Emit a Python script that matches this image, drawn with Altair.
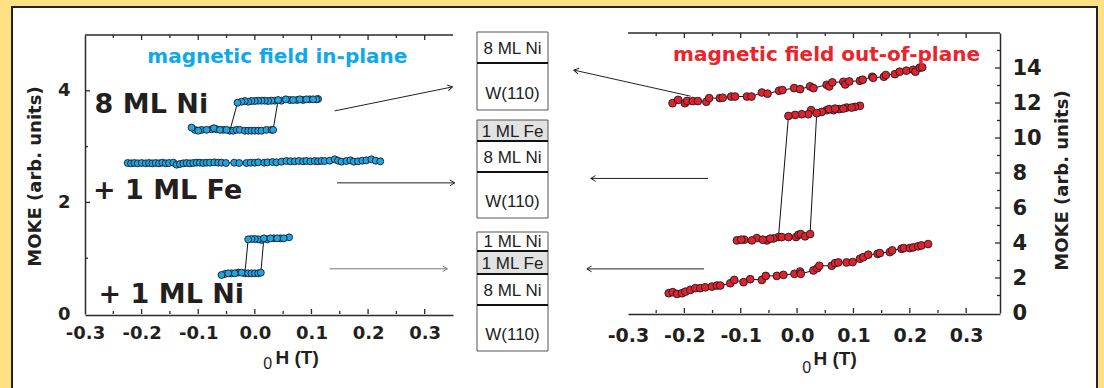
import altair as alt
import pandas as pd

# ---------------- data ----------------
# Left panel: field in-plane (H in T, MOKE in arb. units)
ni8_down_h = [0.1117, 0.1088, 0.097, 0.0852, 0.0747, 0.0617, 0.047, 0.0353, 0.0294, 0.0235, 0.0176, 0.0118, 0.0059, 0.0,
              -0.0059, -0.0118, -0.0176, -0.0235, -0.0306, -0.0441, -0.0558, -0.0676, -0.0764, -0.0941, -0.1058]
ni8_down_m = [3.853, 3.847, 3.847, 3.835, 3.835, 3.835, 3.823, 3.823, 3.823, 3.817, 3.823, 3.823, 3.823, 3.817,
              3.817, 3.805, 3.817, 3.805, 3.787, 3.285, 3.30, 3.31, 3.31, 3.30, 3.30]
ni8_up_h = [-0.1117, -0.0999, -0.0852, -0.0723, -0.0617, -0.05, -0.0382, -0.0323, -0.0265, -0.0176, -0.0118, -0.0059,
            0.0, 0.0059, 0.0118, 0.0206, 0.0294, 0.0323, 0.0411, 0.0547, 0.0676, 0.0794, 0.0911, 0.1029]
ni8_up_m = [3.34, 3.285, 3.30, 3.33, 3.30, 3.30, 3.285, 3.30, 3.30, 3.285, 3.285, 3.285,
            3.285, 3.285, 3.285, 3.30, 3.30, 3.30, 3.835, 3.847, 3.835, 3.847, 3.847, 3.847]

fe_h = [-0.2246, -0.2187, -0.2128, -0.2069, -0.1999, -0.1928, -0.1869, -0.1811, -0.1752, -0.1693,
        -0.1634, -0.1575, -0.1517, -0.144, -0.1382, -0.1323, -0.1264, -0.1205, -0.1146, -0.1088,
        -0.1029, -0.097, -0.0911, -0.0852, -0.0794, -0.0717, -0.0647, -0.0588, -0.0511, -0.0364,
        -0.0276, -0.0147, -0.0076, 0.0, 0.0059, 0.0165, 0.0223, 0.0312, 0.0382, 0.047,
        0.0558, 0.0629, 0.0705, 0.0776, 0.0852, 0.0911, 0.0982, 0.1058, 0.1117, 0.1176,
        0.1235, 0.1323, 0.1411, 0.147, 0.1529, 0.1617, 0.1687, 0.1746, 0.1822, 0.1899,
        0.1969, 0.2058, 0.2134, 0.2216]
fe_m = [2.706, 2.700, 2.706, 2.700, 2.706, 2.700, 2.706, 2.700, 2.706, 2.700,
        2.712, 2.700, 2.706, 2.712, 2.676, 2.688, 2.700, 2.706, 2.700, 2.706,
        2.712, 2.712, 2.706, 2.712, 2.712, 2.718, 2.712, 2.712, 2.706, 2.712,
        2.706, 2.706, 2.712, 2.712, 2.718, 2.712, 2.718, 2.724, 2.718, 2.730,
        2.742, 2.736, 2.736, 2.742, 2.736, 2.742, 2.736, 2.742, 2.736, 2.742,
        2.742, 2.748, 2.772, 2.748, 2.730, 2.742, 2.754, 2.730, 2.736, 2.748,
        2.754, 2.772, 2.748, 2.736]

ni1_down_h = [0.0605, 0.0453, 0.0335, 0.0217, 0.0118, 0.0059, 0.0, -0.0059, -0.0118, -0.0176, -0.0294, -0.0411, -0.0529, -0.0588]
ni1_down_m = [1.374, 1.356, 1.356, 1.338, 1.326, 1.338, 1.344, 1.344, 1.338, 0.729, 0.741, 0.729, 0.717, 0.699]
ni1_up_h = [-0.047, -0.0353, -0.0235, -0.0118, -0.0059, 0.0, 0.0059, 0.0106, 0.0159, 0.0276, 0.0394, 0.0511]
ni1_up_m = [0.729, 0.729, 0.741, 0.729, 0.729, 0.729, 0.729, 0.741, 1.356, 1.356, 1.356, 1.356]

# Right panel: field out-of-plane
oop_ni8_h = [-0.221, -0.211, -0.199, -0.195, -0.185, -0.176, -0.161, -0.156, -0.137, -0.132,
             -0.117, -0.110, -0.089, -0.081, -0.0625, -0.0525, -0.032, -0.026, -0.0053, 0.0053,
             0.023, 0.029, 0.0525, 0.057, 0.0625, 0.082, 0.0855, 0.0926, 0.1115, 0.1163,
             0.1333, 0.135, 0.154, 0.1575, 0.1735, 0.182, 0.194, 0.206, 0.210, 0.2177, 0.222]
oop_ni8_m = [11.99, 12.18, 11.99, 12.12, 12.11, 12.11, 12.07, 12.28, 12.28, 12.30,
             12.37, 12.37, 12.37, 12.37, 12.60, 12.53, 12.70, 12.74, 12.85, 12.79,
             12.95, 12.85, 13.04, 12.95, 13.18, 13.21, 13.06, 13.23, 13.27, 13.33,
             13.50, 13.44, 13.50, 13.60, 13.65, 13.79, 13.85, 13.90, 13.79, 14.02, 14.04]

oop_fe_down_h = [0.1115, 0.1027, 0.088, 0.0749, 0.0643, 0.0525, 0.0437, 0.0248, 0.020, 0.0083, -0.0035, -0.0153,
                 -0.0330, -0.0419, -0.0537, -0.0714, -0.0938, -0.1068]
oop_fe_down_m = [11.84, 11.78, 11.74, 11.65, 11.59, 11.59, 11.49, 11.59, 11.36, 11.36, 11.32, 11.26,
                 4.34, 4.26, 4.15, 4.28, 4.19, 4.15]
oop_fe_up_h = [-0.0991, -0.0802, -0.0608, -0.0478, -0.0271, -0.0153, -0.0018, 0.0024, 0.0065, 0.0142, 0.023,
               0.0348, 0.057, 0.0673, 0.082, 0.0968]
oop_fe_up_m = [4.19, 4.15, 4.19, 4.25, 4.34, 4.34, 4.34, 4.47, 4.51, 4.38, 4.51,
               11.42, 11.65, 11.68, 11.68, 11.74]

oop_ni1_h = [-0.2277, -0.2207, -0.213, -0.2041, -0.1982, -0.1894, -0.1805, -0.1717, -0.1628, -0.151,
             -0.1422, -0.1363, -0.1186, -0.1115, -0.095, -0.0832, -0.0625, -0.0555, -0.036, -0.0242,
             -0.0047, 0.0053, 0.0065, 0.0289, 0.036, 0.0395, 0.0614, 0.0673, 0.0732, 0.0879,
             0.0985, 0.1115, 0.1174, 0.1262, 0.1428, 0.1469, 0.1646, 0.1687, 0.1853, 0.1894,
             0.200, 0.2059, 0.2147, 0.2206, 0.2324]
oop_ni1_m = [1.13, 1.19, 1.09, 1.13, 1.22, 1.32, 1.42, 1.42, 1.47, 1.51,
             1.57, 1.57, 1.70, 1.89, 1.76, 1.93, 1.89, 2.12, 2.12, 2.18,
             2.24, 2.37, 2.24, 2.43, 2.56, 2.70, 2.70, 2.85, 2.89, 2.89,
             2.91, 3.10, 3.19, 3.33, 3.38, 3.42, 3.48, 3.58, 3.67, 3.71,
             3.71, 3.75, 3.81, 3.86, 3.94]

# axis ticks
x_tick_labels = [-0.3, -0.2, -0.1, 0.0, 0.1, 0.2, 0.3]
x_major = [-0.2, -0.1, 0.0, 0.1, 0.2, 0.3]
x_minor = [-0.25, -0.15, -0.05, 0.05, 0.15, 0.25]
left_y_labels = [0, 2, 4]
left_y_major = [2, 4]
left_y_minor = [1, 3]
right_y_labels = [0, 2, 4, 6, 8, 10, 12, 14]
right_y_major = [2, 4, 6, 8, 10, 12, 14]
right_y_minor = [1, 3, 5, 7, 9, 11, 13, 15]

# sample labels (left panel, data coordinates)
sample_labels = ["8 ML Ni", "+ 1 ML Fe", "+ 1 ML Ni"]
sample_label_h = [-0.283, -0.286, -0.276]
sample_label_m = [3.60, 2.06, 0.20]

# arrows (tail -> head)
left_arrow_h0 = [0.141, 0.145, 0.132]
left_arrow_m0 = [3.64, 2.35, 0.81]
left_arrow_h1 = [0.349, 0.353, 0.340]
left_arrow_m1 = [4.07, 2.35, 0.81]
left_arrow_angle = [348.5, 0, 0]
left_arrow_color = ["#222222", "#222222", "#777777"]
right_arrow_h0 = [-0.189, -0.158, -0.165]
right_arrow_m0 = [12.39, 7.69, 2.52]
right_arrow_h1 = [-0.396, -0.366, -0.373]
right_arrow_m1 = [13.88, 7.69, 2.52]
right_arrow_angle = [192.5, 180, 180]
right_arrow_color = ["#222222", "#222222", "#222222"]

# layer stacks (schematic units, top-down)
stack_tops = [32, 120, 232]
stack_layers = [["8 ML Ni", "W(110)"],
                ["1 ML Fe", "8 ML Ni", "W(110)"],
                ["1 ML Ni", "1 ML Fe", "8 ML Ni", "W(110)"]]
stack_heights = [[31, 47], [21, 31, 46], [19, 23, 31, 46]]

# ---------------- styles ----------------
YELLOW = "#FFE183"
CYAN_PT = "#1FA5E0"
CYAN_TXT = "#0FA8E8"
RED_PT = "#E0232B"
RED_TXT = "#E8242C"
PT_STROKE = "#1b1b28"
FRAME = "#2a2a2a"
INK = "#231F20"
BOLD = "DejaVu Sans"
SANS = "Liberation Sans"
CHEVRON = "M-1,-0.6L0,0L-1,0.6"

# plot area = white framed panel, origin at canvas (12, 7)
LX = alt.Scale(domain=[-0.3, 0.35], range=[73, 441], nice=False, zero=False)
LY = alt.Scale(domain=[0, 5], range=[307, 28], nice=False, zero=False)
RX = alt.Scale(domain=[-0.3, 0.36], range=[616, 988], nice=False, zero=False)
RY = alt.Scale(domain=[0, 16], range=[306, 26], nice=False, zero=False)
MX = alt.Scale(domain=[0, 1], range=[465, 536], nice=False, zero=False)
MY = alt.Scale(domain=[0, 388], range=[-7, 381], nice=False, zero=False)

LABEL_EXPR = "replace(format(datum.value, '.1f'), '\u2212', '-')"


def axis_style(size):
    return dict(grid=False, ticks=False, tickSize=0, domainColor=FRAME, domainWidth=1.5,
                labelFont=BOLD, labelFontWeight="bold", labelFontSize=size, labelColor=INK,
                labelFlush=False, labelOverlap=False, zindex=1, titleColor=INK)


def loop_df(parts):
    rows = []
    for name, hs, ms in parts:
        assert len(hs) == len(ms), name
        for i, (h, m) in enumerate(zip(hs, ms)):
            rows.append({"sweep": name, "i": i, "h": h, "m": m})
    return pd.DataFrame(rows)


def panel(df, xs, ys, xaxis, yaxis, pt_color, pt_size):
    base = alt.Chart(df)
    lines = base.mark_line(color="#111111", strokeWidth=1).encode(
        x=alt.X("h:Q", scale=xs, axis=None), y=alt.Y("m:Q", scale=ys, axis=None),
        detail="sweep:N", order="i:Q")
    pts = base.mark_circle(size=pt_size, fill=pt_color, stroke=PT_STROKE, strokeWidth=0.9, opacity=1).encode(
        x=alt.X("h:Q", scale=xs, axis=xaxis), y=alt.Y("m:Q", scale=ys, axis=yaxis))
    return [lines, pts]


def xticks(values, at, length, sign, xs, ys):
    return alt.Chart(pd.DataFrame({"v": values, "a": [at] * len(values)})).mark_tick(
        orient="vertical", size=length, thickness=1.3, color=FRAME, opacity=1, yOffset=sign * length / 2
    ).encode(x=alt.X("v:Q", scale=xs, axis=None), y=alt.Y("a:Q", scale=ys, axis=None))


def yticks(values, at, length, sign, xs, ys):
    return alt.Chart(pd.DataFrame({"v": values, "a": [at] * len(values)})).mark_tick(
        orient="horizontal", size=length, thickness=1.3, color=FRAME, opacity=1, xOffset=sign * length / 2
    ).encode(y=alt.Y("v:Q", scale=ys, axis=None), x=alt.X("a:Q", scale=xs, axis=None))


def hline(x0, x1, y, xs, ys):
    return alt.Chart(pd.DataFrame({"x0": [x0], "x1": [x1], "y": [y]})).mark_rule(
        color=FRAME, strokeWidth=1.5).encode(
        x=alt.X("x0:Q", scale=xs, axis=None), x2="x1", y=alt.Y("y:Q", scale=ys, axis=None))


def arrows(h0, m0, h1, m1, ang, col, xs, ys):
    df = pd.DataFrame({"h0": h0, "m0": m0, "h1": h1, "m1": m1, "ang": ang, "col": col})
    shaft = alt.Chart(df).mark_rule(strokeWidth=1).encode(
        x=alt.X("h0:Q", scale=xs, axis=None), y=alt.Y("m0:Q", scale=ys, axis=None),
        x2="h1", y2="m1", color=alt.Color("col:N", scale=None))
    head = alt.Chart(df).mark_point(shape=CHEVRON, size=90, filled=False, strokeWidth=1, opacity=1).encode(
        x=alt.X("h1:Q", scale=xs, axis=None), y=alt.Y("m1:Q", scale=ys, axis=None),
        angle=alt.Angle("ang:Q", scale=None), color=alt.Color("col:N", scale=None))
    return [shaft, head]


def text_layer(texts, hs, ms, xs, ys, **style):
    df = pd.DataFrame({"t": texts, "h": hs, "m": ms})
    return alt.Chart(df).mark_text(**style).encode(
        x=alt.X("h:Q", scale=xs, axis=None), y=alt.Y("m:Q", scale=ys, axis=None), text="t:N")


# ---------------- left panel ----------------
left_df = loop_df([("ni8_down", ni8_down_h, ni8_down_m), ("ni8_up", ni8_up_h, ni8_up_m),
                   ("fe", fe_h, fe_m),
                   ("ni1_down", ni1_down_h, ni1_down_m), ("ni1_up", ni1_up_h, ni1_up_m)])
left_xaxis = alt.Axis(orient="bottom", offset=-74, values=x_tick_labels, labelExpr=LABEL_EXPR, labelPadding=9,
                      title="H (T)", titleFont=SANS, titleFontWeight="bold", titleFontSize=19,
                      titleX=263, titleY=48, titleAlign="left", titleBaseline="alphabetic", titleAngle=0,
                      **axis_style(18))
left_yaxis = alt.Axis(orient="left", offset=-73, values=left_y_labels, format="d", labelPadding=15,
                      title="MOKE (arb. units)", titleFont=BOLD, titleFontWeight="bold", titleFontSize=18,
                      titleX=-50, titleY=169, titleAngle=270, titleAlign="center", titleBaseline="middle",
                      **axis_style(18))
left_layers = panel(left_df, LX, LY, left_xaxis, left_yaxis, CYAN_PT, 48)
left_layers += [
    xticks(x_major, 0, 5, -1, LX, LY), xticks(x_minor, 0, 3, -1, LX, LY),
    xticks(x_major, 5, 5, 1, LX, LY), xticks(x_minor, 5, 3, 1, LX, LY),
    yticks(left_y_major, -0.3, 5, 1, LX, LY), yticks(left_y_minor, -0.3, 3, 1, LX, LY),
    hline(-0.3, 0.35, 5, LX, LY),
]
left_layers += arrows(left_arrow_h0, left_arrow_m0, left_arrow_h1, left_arrow_m1,
                      left_arrow_angle, left_arrow_color, LX, LY)
left_layers += [
    text_layer(sample_labels, sample_label_h, sample_label_m, LX, LY, font=BOLD, fontWeight="bold",
               fontSize=27, color=INK, align="left", baseline="alphabetic"),
    text_layer(["magnetic field in-plane"], [0.0397], [4.49], LX, LY, font=BOLD, fontWeight="bold",
               fontSize=20, color=CYAN_TXT, align="center", baseline="alphabetic"),
    text_layer(["0"], [0.0225], [-0.99], LX, LY, font=SANS, fontSize=16, color=INK,
               align="center", baseline="alphabetic"),
]

# ---------------- right panel ----------------
right_df = loop_df([("oni8", oop_ni8_h, oop_ni8_m),
                    ("ofe_down", oop_fe_down_h, oop_fe_down_m), ("ofe_up", oop_fe_up_h, oop_fe_up_m),
                    ("oni1", oop_ni1_h, oop_ni1_m)])
right_xaxis = alt.Axis(orient="bottom", offset=-75, values=x_tick_labels, labelExpr=LABEL_EXPR, labelPadding=12,
                       title="H (T)", titleFont=SANS, titleFontWeight="bold", titleFontSize=19,
                       titleX=801, titleY=50, titleAlign="left", titleBaseline="alphabetic", titleAngle=0,
                       **axis_style(19))
right_yaxis = alt.Axis(orient="right", offset=-97, values=right_y_labels, format="d", labelPadding=12,
                       title="MOKE (arb. units)", titleFont=BOLD, titleFontWeight="bold", titleFontSize=18,
                       titleX=62, titleY=173, titleAngle=270, titleAlign="center", titleBaseline="middle",
                       **axis_style(21))
right_layers = panel(right_df, RX, RY, right_xaxis, right_yaxis, RED_PT, 60)
right_layers += [
    xticks(x_major, 0, 5, -1, RX, RY), xticks(x_minor, 0, 3, -1, RX, RY),
    xticks(x_major, 16, 5, 1, RX, RY), xticks(x_minor, 16, 3, 1, RX, RY),
    yticks(right_y_major, 0.36, 5, -1, RX, RY), yticks(right_y_minor, 0.36, 3, -1, RX, RY),
    hline(-0.3, 0.36, 16, RX, RY),
]
right_layers += arrows(right_arrow_h0, right_arrow_m0, right_arrow_h1, right_arrow_m1,
                       right_arrow_angle, right_arrow_color, RX, RY)
right_layers += [
    text_layer(["magnetic field out-of-plane"], [0.0522], [14.42], RX, RY, font=BOLD, fontWeight="bold",
               fontSize=20, color=RED_TXT, align="center", baseline="alphabetic"),
    text_layer(["0"], [0.017], [-3.44], RX, RY, font=SANS, fontSize=16, color=INK,
               align="center", baseline="alphabetic"),
]

# ---------------- middle: layer stacks ----------------
cells, dividers = [], []
for s, (top, names, hts) in enumerate(zip(stack_tops, stack_layers, stack_heights)):
    y = top
    for k, (name, h) in enumerate(zip(names, hts)):
        frac = 0.65 if name.startswith("W") else 0.55
        cells.append({"x0": 0, "x1": 1, "top": y, "bottom": y + h, "label": name, "xc": 0.5,
                      "ty": y + frac * h, "fill": "#E2E2E2" if "Fe" in name else "#FFFFFF"})
        if k > 0:
            dividers.append({"x0": 0, "x1": 1, "y": y})
        y += h
cells_df = pd.DataFrame(cells)
div_df = pd.DataFrame(dividers)
mid_rect = alt.Chart(cells_df).mark_rect(stroke="#555555", strokeWidth=1).encode(
    x=alt.X("x0:Q", scale=MX, axis=None), x2="x1",
    y=alt.Y("top:Q", scale=MY, axis=None), y2="bottom",
    fill=alt.Fill("fill:N", scale=None))
mid_div = alt.Chart(div_df).mark_rule(color="#111111", strokeWidth=2).encode(
    x=alt.X("x0:Q", scale=MX, axis=None), x2="x1", y=alt.Y("y:Q", scale=MY, axis=None))
mid_text = alt.Chart(cells_df).mark_text(
    font=SANS, fontSize=17, color="#222222", align="center", baseline="middle").encode(
    x=alt.X("xc:Q", scale=MX, axis=None), y=alt.Y("ty:Q", scale=MY, axis=None), text="label:N")
middle_layers = [mid_rect, mid_div, mid_text]

chart = alt.layer(*middle_layers, *left_layers, *right_layers).resolve_scale(
    x="independent", y="independent"
).properties(
    width=1085, height=382,
    padding={"left": 12, "top": 7, "right": 7, "bottom": 0},
    background=YELLOW,
    autosize=alt.AutoSizeParams(type="none")
).configure_view(fill="white", stroke="#222222", strokeWidth=2)

chart.save("out.html", embed_options={"renderer": "svg", "actions": False})
